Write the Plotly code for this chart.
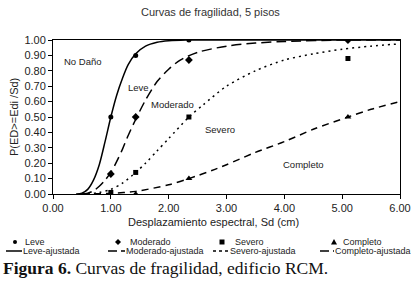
import plotly.graph_objects as go

# ---- data ----
pts_x = [1.0, 1.43, 2.35, 5.1]
leve_pts = [0.50, 0.90, 1.00, 1.00]
moderado_pts = [0.13, 0.50, 0.87, 1.00]
severo_pts = [0.01, 0.14, 0.50, 0.88]
completo_pts = [None, 0.00, 0.10, 0.50]

leve_fx = [0.4, 0.5, 0.6, 0.7, 0.8, 0.9, 1.0, 1.1, 1.2, 1.3, 1.43, 1.6, 1.8, 2.0, 2.3, 3.0, 4.0, 5.0, 6.0]
leve_fy = [0.0, 0.005, 0.03, 0.09, 0.19, 0.34, 0.50, 0.64, 0.75, 0.84, 0.91, 0.96, 0.985, 0.995, 1.0, 1.0, 1.0, 1.0, 1.0]

mod_fx = [0.5, 0.6, 0.7, 0.8, 0.9, 1.0, 1.1, 1.2, 1.3, 1.45, 1.6, 1.8, 2.0, 2.2, 2.5, 3.0, 3.5, 4.0, 5.0, 6.0]
mod_fy = [0.0, 0.005, 0.02, 0.05, 0.09, 0.14, 0.21, 0.29, 0.38, 0.50, 0.61, 0.73, 0.81, 0.87, 0.92, 0.96, 0.98, 0.99, 1.0, 1.0]

sev_fx = [0.6, 0.8, 1.0, 1.2, 1.43, 1.6, 1.8, 2.0, 2.35, 2.6, 3.0, 3.5, 4.0, 4.5, 5.0, 5.5, 6.0]
sev_fy = [0.0, 0.01, 0.03, 0.07, 0.14, 0.20, 0.28, 0.36, 0.50, 0.58, 0.70, 0.80, 0.87, 0.91, 0.94, 0.96, 0.975]

comp_fx = [0.5, 1.0, 1.43, 2.0, 2.35, 2.8, 3.0, 3.5, 4.0, 4.5, 5.1, 5.5, 6.0]
comp_fy = [0.0, 0.004, 0.017, 0.06, 0.10, 0.16, 0.19, 0.27, 0.34, 0.42, 0.50, 0.55, 0.60]

x_ticks = [0, 1, 2, 3, 4, 5, 6]
y_ticks = [0.0, 0.1, 0.2, 0.3, 0.4, 0.5, 0.6, 0.7, 0.8, 0.9, 1.0]

labels = ["No Daño", "Leve", "Moderado", "Severo", "Completo"]
label_x = [0.52, 1.47, 2.06, 2.89, 4.33]
label_y = [0.86, 0.69, 0.58, 0.42, 0.19]

point_names = ["Leve", "Moderado", "Severo", "Completo"]
fit_names = ["Leve-ajustada", "Moderado-ajustada", "Severo-ajustada", "Completo-ajustada"]

SANS = "Liberation Sans, Arial, sans-serif"
INK = "#222"

# plot-area geometry in pixels
W, H = 417, 284
L, R, T, B = 53, 400, 40, 194
def px(xp):
    return (xp - L) / (R - L)
def py(yp):
    return (B - yp) / (B - T)

fig = go.Figure()

symbols = ["circle", "diamond", "square", "triangle-up"]
sizes = [5, 6, 5, 6]
for nm, ys, sym, sz in zip(point_names, [leve_pts, moderado_pts, severo_pts, completo_pts], symbols, sizes):
    fig.add_trace(go.Scatter(x=pts_x, y=ys, mode="markers", name=nm, showlegend=False,
                             marker=dict(symbol=sym, color="black", size=sz)))

dashes = ["solid", "10px,5px", "2px,4px", "7px,5px"]
for nm, fx, fy, dsh in zip(fit_names, [leve_fx, mod_fx, sev_fx, comp_fx],
                           [leve_fy, mod_fy, sev_fy, comp_fy], dashes):
    fig.add_trace(go.Scatter(x=fx, y=fy, mode="lines", name=nm, showlegend=False,
                             line=dict(shape="spline", smoothing=0.8, color="black", width=1.5, dash=dsh)))

for t, xx, yy in zip(labels, label_x, label_y):
    fig.add_annotation(x=xx, y=yy, text=t, showarrow=False, xanchor="center",
                       font=dict(family=SANS, size=9.5, color=INK))

# titles
fig.add_annotation(xref="paper", yref="paper", x=px(210), y=py(12), text="Curvas de fragilidad, 5 pisos",
                   showarrow=False, xanchor="center", yanchor="middle",
                   font=dict(family=SANS, size=11, color="#333"))
fig.add_annotation(xref="paper", yref="paper", x=px(14), y=0.5, text="P(ED>=Edi /Sd)", textangle=-90,
                   showarrow=False, xanchor="center", yanchor="middle",
                   font=dict(family=SANS, size=11, color=INK))
fig.add_annotation(xref="paper", yref="paper", x=px(213), y=py(222), text="Desplazamiento espectral, Sd (cm)",
                   showarrow=False, xanchor="center", yanchor="middle",
                   font=dict(family=SANS, size=11, color=INK))

# ---- hand-drawn legend (two rows, four columns) ----
row1, row2 = 242, 251
mk_cx = [15, 118, 222, 334]
mk_tx = [23, 128, 233, 341]
ln_x0 = [6, 108, 213, 320]
ln_x1 = [22, 125, 229, 334]
ln_tx = [23, 126, 230, 335]
ln_dash = ["solid", "9px,4px", "3px,3px", "9px,4px"]

def marker_shape(sym, cx, cy):
    base = dict(xref="paper", yref="paper", xsizemode="pixel", ysizemode="pixel",
                xanchor=px(cx), yanchor=py(cy), fillcolor="black", line=dict(color="black", width=0))
    if sym == "circle":
        return dict(type="circle", x0=-2, x1=2, y0=-2, y1=2, **base)
    if sym == "square":
        return dict(type="rect", x0=-2.5, x1=2.5, y0=-2.5, y1=2.5, **base)
    if sym == "diamond":
        return dict(type="path", path="M 0 3 L 3 0 L 0 -3 L -3 0 Z", **base)
    return dict(type="path", path="M -3 -2.5 L 3 -2.5 L 0 3 Z", **base)

for i in range(4):
    fig.add_shape(**marker_shape(symbols[i], mk_cx[i], row1))
    fig.add_annotation(xref="paper", yref="paper", x=px(mk_tx[i]), y=py(row1), text=point_names[i],
                       xanchor="left", yanchor="middle", showarrow=False,
                       font=dict(family=SANS, size=9, color=INK))
    fig.add_shape(type="line", xref="paper", yref="paper", x0=px(ln_x0[i]), x1=px(ln_x1[i]),
                  y0=py(row2), y1=py(row2), line=dict(color="black", width=1.5, dash=ln_dash[i]))
    fig.add_annotation(xref="paper", yref="paper", x=px(ln_tx[i]), y=py(row2), text=fit_names[i],
                       xanchor="left", yanchor="middle", showarrow=False, xshift=-2,
                       font=dict(family=SANS, size=9, color=INK))

# caption
fig.add_annotation(xref="paper", yref="paper", x=px(3), y=py(268), xanchor="left", yanchor="middle",
                   text="<b>Figura 6.</b> Curvas de fragilidad, edificio RCM.", showarrow=False, xshift=-2,
                   font=dict(family="Liberation Serif, Times New Roman, serif", size=17.5, color="#111"))

axis_common = dict(showline=True, linecolor="black", linewidth=1, mirror=True, ticks="outside",
                   ticklen=4, tickcolor="black", showgrid=False, zeroline=False,
                   tickfont=dict(family=SANS, size=11, color=INK), tickformat=".2f")
fig.update_xaxes(range=[0, 6], tickvals=x_ticks, **axis_common)
fig.update_yaxes(range=[0, 1], tickvals=y_ticks, **axis_common)

fig.update_layout(
    width=W, height=H, autosize=False,
    margin=dict(l=L, r=W - R, t=T, b=H - B, autoexpand=False),
    plot_bgcolor="white", paper_bgcolor="white",
    showlegend=False,
)

fig.write_html("out.html", config={"displayModeBar": False},
               post_script="document.body.style.margin='0';document.body.style.padding='0';")
